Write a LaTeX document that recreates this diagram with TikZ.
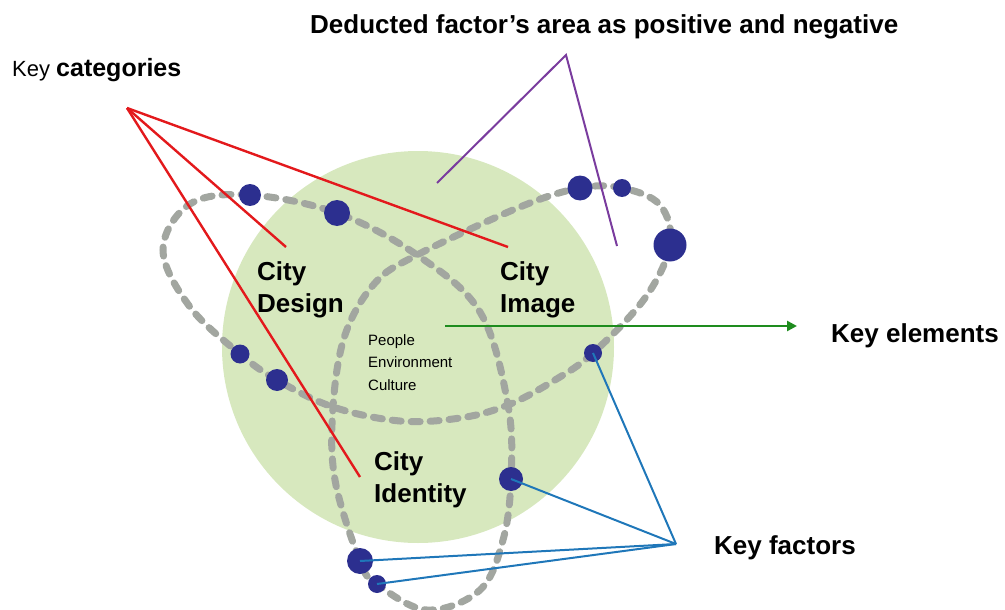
\documentclass[tikz,border=0pt]{standalone}
\usepackage{fontspec}
\setmainfont{Liberation Sans}
\usetikzlibrary{arrows.meta}
\definecolor{ktGreen}{HTML}{D7E8BE}
\definecolor{ktGray}{HTML}{A2A6A0}
\definecolor{ktNavy}{HTML}{2C2F8F}
\definecolor{ktRed}{HTML}{E3191C}
\definecolor{ktPurple}{HTML}{7A3C9E}
\definecolor{ktArrow}{HTML}{1E8C1E}
\definecolor{ktBlue}{HTML}{1F77B9}

\begin{document}
\begin{tikzpicture}[x=1pt, y=-1pt,
  dot/.style={circle, fill=ktNavy, inner sep=0pt, minimum size=#1},
  orbit/.style={ktGray, line width=7pt, line cap=round, dash pattern=on 9pt off 10pt},
  big/.style={font=\fontsize{26}{32}\selectfont\bfseries, inner sep=0pt, align=left, anchor=base west},
  small/.style={font=\fontsize{15}{22.5}\selectfont, inner sep=0pt, align=left, anchor=base west},
  cat/.style={ktRed, line width=2.4pt},
  ded/.style={ktPurple, line width=2pt},
  fac/.style={ktBlue, line width=2pt},
  ele/.style={-{Triangle[length=10pt, width=10pt]}, ktArrow, line width=2.6pt}]
  \useasboundingbox (0,0) rectangle (1005,610);
  % area and orbit
  \fill[ktGreen] (418,347) circle[radius=196pt];
  \draw[orbit] plot[smooth cycle, tension=0.6] coordinates {
    (337,213) (250,195) (190,204) (163,250) (190,307) (240,354) (277,380)
    (333,407) (400,421) (460,418) (508,405) (555,380) (593,353) (645,298)
    (670,245) (660,205) (622,188) (580,188) (520,207) (417,255) (375,283)
    (345,335) (333,407) (335,480) (360,561) (377,584) (427,610) (480,590)
    (503,540) (511,479) (508,405) (480,312) (417,255)};
  % factors on the orbit
  \node[dot=22pt] (f1) at (250,195) {};
  \node[dot=26pt] (f2) at (337,213) {};
  \node[dot=25pt] (f3) at (580,188) {};
  \node[dot=18pt] (f4) at (622,188) {};
  \node[dot=33pt] (f5) at (670,245) {};
  \node[dot=18pt] (f6) at (593,353) {};
  \node[dot=19pt] (f7) at (240,354) {};
  \node[dot=22pt] (f8) at (277,380) {};
  \node[dot=24pt] (f9) at (511,479) {};
  \node[dot=26pt] (f10) at (360,561) {};
  \node[dot=18pt] (f11) at (377,584) {};
  % pointers
  \coordinate (kc) at (127,108);
  \coordinate (dsgnTip) at (286,247);
  \coordinate (imgTip) at (508,247);
  \coordinate (idTip) at (360,477);
  \draw[cat] (kc) -- (dsgnTip);
  \draw[cat] (kc) -- (imgTip);
  \draw[cat] (kc) -- (idTip);
  \coordinate (da) at (566,55);
  \coordinate (daL) at (437,183);
  \coordinate (daR) at (617,246);
  \draw[ded] (daL) -- (da) -- (daR);
  \coordinate (keL) at (445,326);
  \coordinate (keR) at (797,326);
  \draw[ele] (keL) -- (keR);
  \coordinate (kf) at (676,544);
  \draw[fac] (f6.center) -- (kf);
  \draw[fac] (f9.center) -- (kf);
  \draw[fac] (f10.center) -- (kf);
  \draw[fac] (f11.center) -- (kf);
  % labels
  \node[big] (design) at (257,312) {City\\Design};
  \node[big] (image) at (500,312) {City\\Image};
  \node[big] (identity) at (374,502) {City\\Identity};
  \node[small] (pec) at (368,390) {People\\Environment\\Culture};
  \node[big] (elems) at (831,342) {Key elements};
  \node[big] (facts) at (714,554) {Key factors};
  \node[big, font=\fontsize{26}{30}\selectfont\bfseries] (deduct) at (310,34)
    {Deducted factor’s area as positive and negative};
  \node[big, font=\fontsize{22}{30}\selectfont] (keycat) at (12,77)
    {Key {\fontsize{25}{30}\selectfont\bfseries categories}};
\end{tikzpicture}
\end{document}
